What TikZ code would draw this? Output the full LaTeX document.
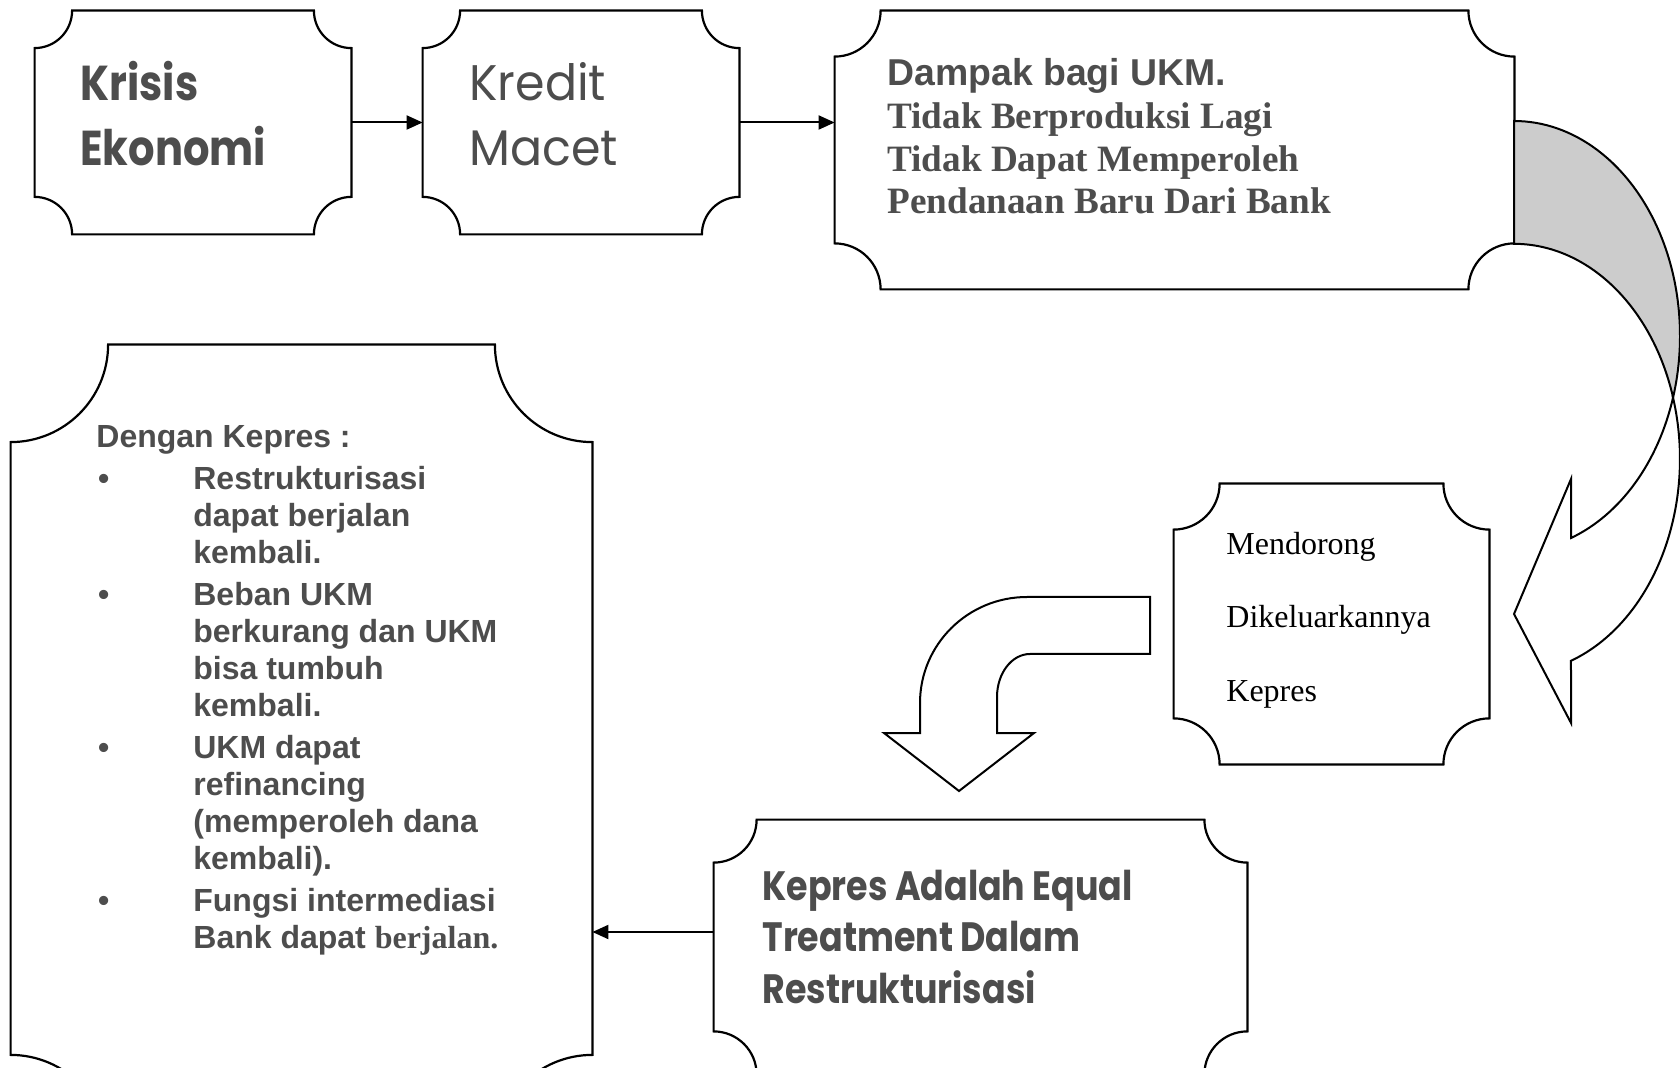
\documentclass[tikz,border=0pt]{standalone}
\usepackage{fontspec}
\setmainfont{Liberation Serif}
\newfontfamily\arialfont{Liberation Sans}
\newfontfamily\comicfont[FakeStretch=0.85]{Poppins}
\newfontfamily\comicregfont[FakeStretch=0.95]{Poppins}
\usetikzlibrary{arrows.meta,fit}

\newcommand{\kbul}{\hspace*{0.8pt}\makebox[47.7pt][l]{•}}
\newcommand{\kind}{\hspace*{48.5pt}}

\begin{document}
\begin{tikzpicture}[x=0.5pt,y=0.5pt,
	plaque/.style={inner sep=0pt},
	outline/.style={draw=black, line width=1.1pt},
	flow/.style={line width=1pt, -{Triangle[length=8pt,width=7pt]}},
	boxtext/.style={anchor=base west, inner sep=0pt, align=left, text=TXT},
	blockarrow/.style={draw=black, line width=1pt, line join=miter}]
\definecolor{TXT}{HTML}{4D4D4D}
\colorlet{BACK}{gray!40}

\useasboundingbox (0,0) rectangle (1680,-1068);
\clip (0,0) rectangle (1680,-1068);

% boxes
\node[plaque, fit={(35,-11) (351,-234)}] (krisis) {};
\node[plaque, fit={(423,-11) (739,-234)}] (kredit) {};
\node[plaque, fit={(835,-11) (1514,-289)}] (dampak) {};
\node[plaque, fit={(11,-345) (592,-1152)}] (dengan) {};
\node[plaque, fit={(1174,-484) (1489,-764)}] (mendorong) {};
\node[plaque, fit={(714,-820) (1247,-1074)}] (equal) {};

\foreach \bx/\rad in {krisis/18.75,kredit/18.75,dampak/23,dengan/48.75,mendorong/23,equal/21.5}{
	\draw[outline] ([xshift=\rad pt]\bx.north west) -- ([xshift=-\rad pt]\bx.north east)
		arc[start angle=180, end angle=270, radius=\rad pt]
		-- ([yshift=\rad pt]\bx.south east)
		arc[start angle=90, end angle=180, radius=\rad pt]
		-- ([xshift=\rad pt]\bx.south west)
		arc[start angle=0, end angle=90, radius=\rad pt]
		-- ([yshift=-\rad pt]\bx.north west)
		arc[start angle=270, end angle=360, radius=\rad pt]
		-- cycle;
}

% texts (anchored at the baseline of the last line)
\node[boxtext, font=\comicfont\bfseries\fontsize{24.5}{32.5}\selectfont] (krisislabel) at (80,-166) {Krisis\\Ekonomi};
\node[boxtext, font=\comicregfont\fontsize{25}{32.5}\selectfont] (kreditlabel) at (469,-166) {Kredit\\Macet};
\node[boxtext, font=\bfseries\fontsize{18.6}{21.4}\selectfont] (dampaklabel) at (887,-214)
	{{\arialfont\fontsize{18.7}{21.4}\selectfont Dampak bagi UKM.}\\Tidak Berproduksi Lagi\\Tidak Dapat Memperoleh\\Pendanaan Baru Dari Bank};
\node[boxtext, font=\arialfont\bfseries\fontsize{16}{18.5}\selectfont] (denganlabel) at (96,-948)
	{Dengan Kepres :\\[2.5pt]
	\kbul Restrukturisasi\\ \kind dapat berjalan\\ \kind kembali.\\[2.5pt]
	\kbul Beban UKM\\ \kind berkurang dan UKM\\ \kind bisa tumbuh\\ \kind kembali.\\[2.5pt]
	\kbul UKM dapat\\ \kind refinancing\\ \kind (memperoleh dana\\ \kind kembali).\\[2.5pt]
	\kbul Fungsi intermediasi\\ \kind Bank dapat {\rmfamily\bfseries berjalan.}};
\node[boxtext, text=black, font=\fontsize{16}{36.75}\selectfont] (mendoronglabel) at (1226,-701) {Mendorong\\Dikeluarkannya\\Kepres};
\node[boxtext, font=\comicfont\bfseries\fontsize{20.5}{25.75}\selectfont] (equallabel) at (762,-1003) {Kepres Adalah Equal\\Treatment Dalam\\Restrukturisasi};

% connectors
\draw[flow] (krisis) -- (kredit);
\draw[flow] (kredit.east) -- (kredit.east -| dampak.west);
\draw[flow] ([yshift=7.5pt]equal.west) -- ([yshift=7.5pt]equal.west -| dengan.east);

% curved arrow, back and front
\filldraw[blockarrow, fill=BACK] (1514,-121) arc[start angle=90, end angle=-16.6, x radius=166, y radius=215]
	arc[start angle=16.6, end angle=90, x radius=166, y radius=215] -- cycle;
\filldraw[blockarrow, fill=white] (1673,-397.5) arc[start angle=16.6, end angle=-69.9, x radius=166, y radius=215]
	-- (1571,-723) -- (1514,-614) -- (1571,-479) -- (1571,-538)
	arc[start angle=-69.9, end angle=-16.6, x radius=166, y radius=215] -- cycle;

% bent arrow
\draw[blockarrow, fill=white] (1150,-597) -- (1027,-597) arc[start angle=90, end angle=180, x radius=107, y radius=106]
	-- (920,-733) -- (884,-733) -- (959,-791) -- (1034,-733) -- (997,-733) -- (997,-697)
	arc[start angle=180, end angle=90, x radius=33, y radius=43] -- (1150,-654) -- cycle;

\end{tikzpicture}
\end{document}
